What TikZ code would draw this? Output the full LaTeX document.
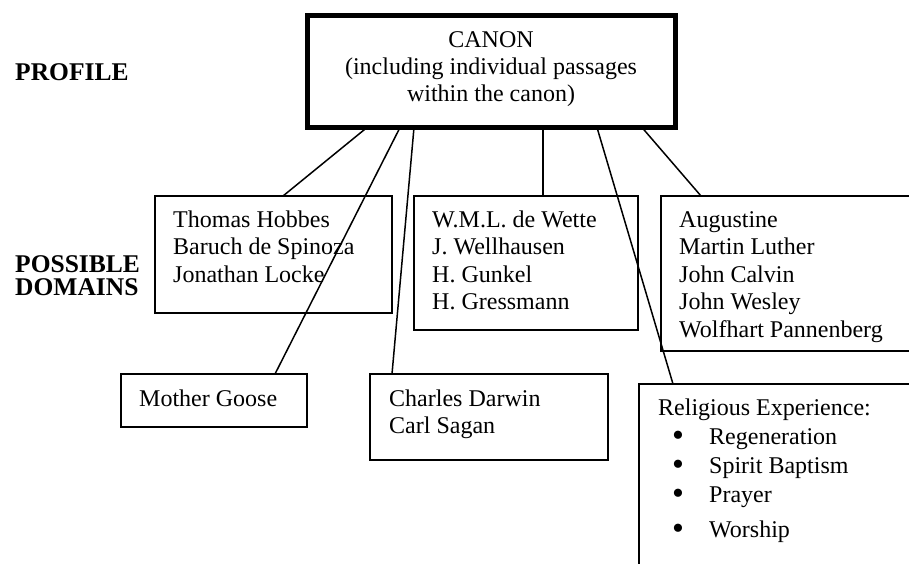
\documentclass[tikz,border=0pt]{standalone}
\usepackage{fontspec}
\setmainfont{Liberation Serif}
\newcommand{\bul}{\hspace*{14pt}\makebox[37pt][l]{\raisebox{-2.5pt}{\fontsize{34}{29}\selectfont\textbullet}}}
\begin{document}
% multi-line nodes are placed by the baseline of their last line
\begin{tikzpicture}[x=1pt,y=-1pt,
  box/.style={draw, line width=2pt, rectangle, outer sep=0pt, inner sep=0pt, anchor=north west},
  canonbox/.style={box, line width=5pt},
  txt/.style={inner sep=0pt, align=left, anchor=base west, font=\fontsize{24}{27.5}\selectfont},
  head/.style={inner sep=0pt, align=left, anchor=base west, font=\fontsize{25.5}{23}\selectfont\bfseries},
  link/.style={line width=1.5pt}]
\useasboundingbox (0,0) rectangle (909,564);
\clip (0,0) rectangle (909,564);

% row labels
\node[head] (profile) at (15,81) {PROFILE};
\node[head] (domains) at (15,295) {POSSIBLE\\DOMAINS};

% the canon
\node[canonbox, minimum width=368pt, minimum height=112pt] (canon) at (307,15.5) {};
\node[txt, align=center, anchor=base, font=\fontsize{24}{27}\selectfont] (canonT) at (491,102)
  {CANON\\(including individual passages\\within the canon)};

% domains
\node[box, minimum width=237pt, minimum height=117pt] (hobbes) at (155,196) {};
\node[txt] (hobbesT) at (173,282) {Thomas Hobbes\\Baruch de Spinoza\\Jonathan Locke};

\node[box, minimum width=224pt, minimum height=134pt] (dewette) at (414,196) {};
\node[txt] (dewetteT) at (432,309.5) {W.M.L. de Wette\\J. Wellhausen\\H. Gunkel\\H. Gressmann};

\node[box, minimum width=260pt, minimum height=155pt] (augustine) at (661,196) {};
\node[txt] (augustineT) at (679,337) {Augustine\\Martin Luther\\John Calvin\\John Wesley\\Wolfhart Pannenberg};

\node[box, minimum width=186pt, minimum height=53pt] (goose) at (121,374) {};
\node[txt] (gooseT) at (139,406) {Mother Goose};

\node[box, minimum width=238pt, minimum height=86pt] (darwin) at (370,374) {};
\node[txt, font=\fontsize{24}{27}\selectfont] (darwinT) at (389,433) {Charles Darwin\\Carl Sagan};

\node[box, minimum width=290pt, minimum height=200pt] (religion) at (639,384) {};
\node[txt, font=\fontsize{24}{29}\selectfont] (religionT) at (658,537)
  {Religious Experience:\\
   \bul Regeneration\\
   \bul Spirit Baptism\\
   \bul Prayer\\[6pt]
   \bul Worship};

% connectors from the canon to each domain
\draw[link] ([xshift=60pt]canon.south west) -- ([xshift=128pt]hobbes.north west);
\draw[link] ([xshift=93pt]canon.south west) -- ([xshift=154pt]goose.north west);
\draw[link] ([xshift=107pt]canon.south west) -- ([xshift=22pt]darwin.north west);
\draw[link] ([xshift=236pt]canon.south west) -- ([xshift=129pt]dewette.north west);
\draw[link] ([xshift=290pt]canon.south west) -- ([xshift=34pt]religion.north west);
\draw[link] ([xshift=335pt]canon.south west) -- ([xshift=40pt]augustine.north west);
\end{tikzpicture}
\end{document}
